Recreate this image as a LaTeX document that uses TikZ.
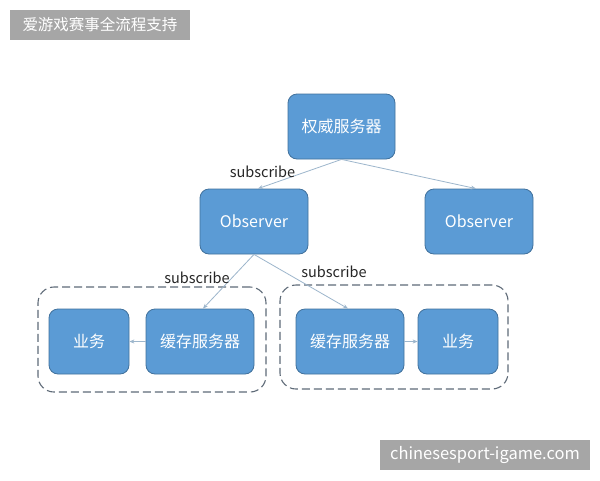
\documentclass[tikz,border=0pt]{standalone}
\usepackage{fontspec}
\setmainfont{Noto Sans CJK SC}
\usetikzlibrary{arrows.meta}
\definecolor{boxfill}{HTML}{5B9BD5}
\definecolor{boxline}{HTML}{41719C}
\definecolor{conn}{HTML}{9DB6CC}
\definecolor{dashline}{HTML}{5F6B78}
\definecolor{banner}{HTML}{A6A6A6}
\tikzset{
  blue box/.style={draw=boxline, fill=boxfill, line width=0.8pt, rounded corners=9pt,
    text=white, font=\fontsize{16}{18}\selectfont, inner sep=0pt},
  group box/.style={draw=dashline, dash pattern=on 8pt off 4pt, line width=1.1pt, rounded corners=16pt},
  conn/.style={draw=conn, line width=0.8pt, -{Stealth[length=5pt,width=4pt]}},
  sublabel/.style={text=black!85, font=\fontsize{14.5}{16}\selectfont, inner sep=0pt},
  bannerbox/.style={fill=banner, text=white, inner sep=0pt}
}
\begin{document}
\begin{tikzpicture}[x=1pt,y=-1pt]
\useasboundingbox[fill=white] (0,0) rectangle (600,480);
% banners
\node[bannerbox, minimum width=180pt, minimum height=30pt, font=\fontsize{15.5}{17}\selectfont] (title) at (100,25) {爱游戏赛事全流程支持};
\node[bannerbox, minimum width=210pt, minimum height=30pt, font=\fontsize{16.5}{19}\selectfont] (wm) at (485,455) {chinesesport-igame.com};
% group boxes
\node[group box, minimum width=228pt, minimum height=105pt] (g1) at (152,339.5) {};
\node[group box, minimum width=228pt, minimum height=104pt] (g2) at (394,337) {};
% main nodes
\node[blue box, minimum width=107pt, minimum height=65pt] (auth) at (341.5,126.5) {权威服务器};
\node[blue box, minimum width=108pt, minimum height=65pt] (obsL) at (254,221.5) {Observer};
\node[blue box, minimum width=108pt, minimum height=65pt] (obsR) at (479,221.5) {Observer};
\node[blue box, minimum width=80pt, minimum height=65pt] (bizL) at (89,341.5) {业务};
\node[blue box, minimum width=108pt, minimum height=65pt] (cacheL) at (200,341.5) {缓存服务器};
\node[blue box, minimum width=108pt, minimum height=65pt] (cacheR) at (350,341.5) {缓存服务器};
\node[blue box, minimum width=80pt, minimum height=65pt] (bizR) at (458,341.5) {业务};
% connectors
\draw[conn] (auth.south) -- ([xshift=4pt]obsL.north);
\draw[conn] (auth.south) -- ([xshift=-3pt]obsR.north);
\draw[conn] (obsL.south) -- ([xshift=3pt]cacheL.north);
\draw[conn] (obsL.south) -- ([xshift=-2pt]cacheR.north);
\draw[conn] (cacheL.west) -- (bizL.east);
\draw[conn] (cacheR.east) -- (bizR.west);
% labels
\node[sublabel] (s1) at (262.5,172) {subscribe};
\node[sublabel] (s2) at (197,278) {subscribe};
\node[sublabel] (s3) at (334,272) {subscribe};
\end{tikzpicture}
\end{document}
